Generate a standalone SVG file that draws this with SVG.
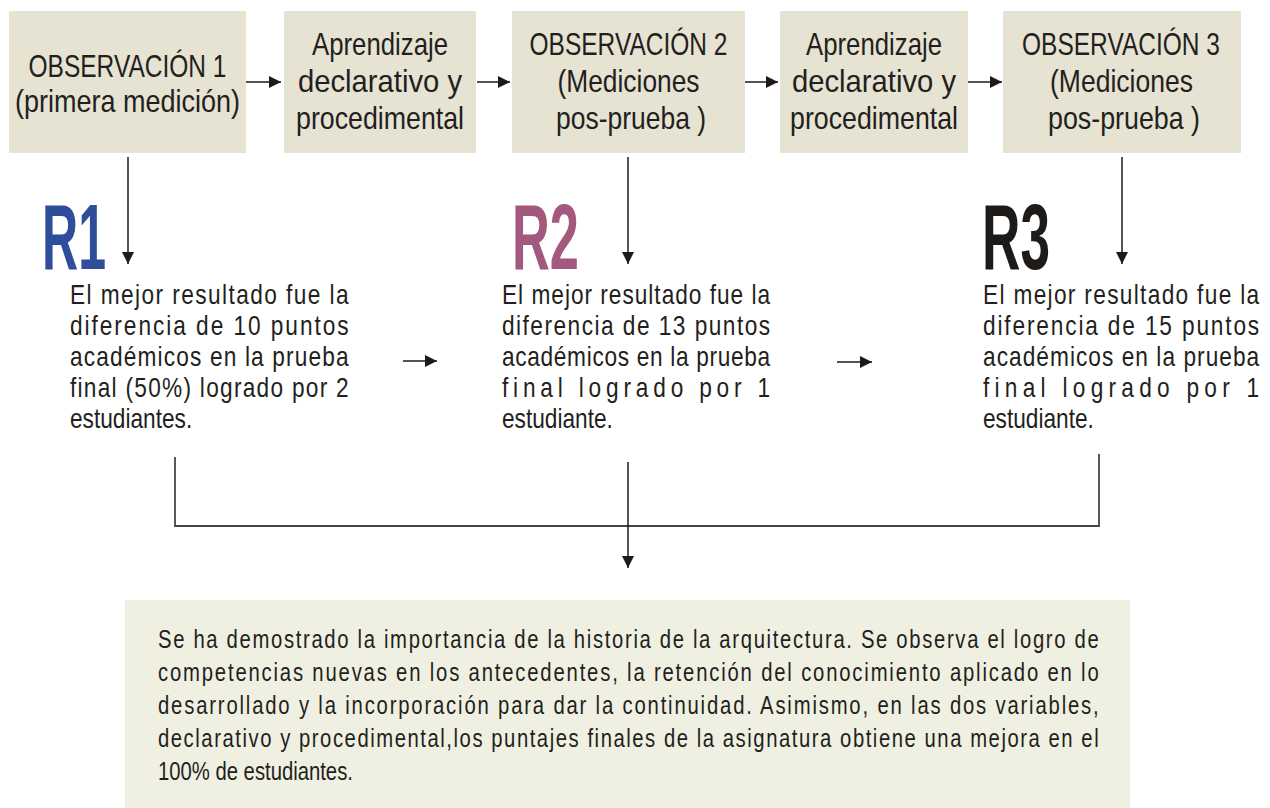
<svg xmlns="http://www.w3.org/2000/svg" width="1270" height="808" viewBox="0 0 1270 808">
<defs>
<style>
.box{fill:#E6E3D3;}
.bt{font-family:"Liberation Sans",Arial,sans-serif;font-size:32px;fill:#231F20;text-anchor:middle;}
.pt{font-family:"Liberation Sans",Arial,sans-serif;font-size:28px;fill:#231F20;}
.ct{font-family:"Liberation Sans",Arial,sans-serif;font-size:26px;fill:#231F20;}
.rt{font-family:"Liberation Sans",Arial,sans-serif;font-size:92px;font-weight:bold;}
.ln{fill:none;stroke:#1E1A17;stroke-width:1.5;}
.gl{fill:none;stroke:#4A4540;stroke-width:1.8;}
</style>
<marker id="ah" viewBox="0 0 12 12" refX="12" refY="6" markerWidth="13" markerHeight="12" markerUnits="userSpaceOnUse" orient="auto">
<path d="M0,0 L12,6 L0,12 z" fill="#1E1A17"/>
</marker>
</defs>
<rect width="1270" height="808" fill="#FFFFFF"/>

<g id="obs1">
<rect class="box" x="9" y="11" width="237" height="142"/>
<text class="bt" x="127.5" y="77" textLength="198" lengthAdjust="spacingAndGlyphs">OBSERVACIÓN 1</text>
<text class="bt" x="127.5" y="112" textLength="225" lengthAdjust="spacingAndGlyphs">(primera medición)</text>
</g>
<g id="aprend1">
<rect class="box" x="284" y="11" width="192" height="142"/>
<text class="bt" x="380" y="55" textLength="136" lengthAdjust="spacingAndGlyphs">Aprendizaje</text>
<text class="bt" x="380" y="92" textLength="164" lengthAdjust="spacingAndGlyphs">declarativo y</text>
<text class="bt" x="380" y="129" textLength="168" lengthAdjust="spacingAndGlyphs">procedimental</text>
</g>
<g id="obs2">
<rect class="box" x="512" y="11" width="233" height="142"/>
<text class="bt" x="628.5" y="55" textLength="198" lengthAdjust="spacingAndGlyphs">OBSERVACIÓN 2</text>
<text class="bt" x="628.5" y="92" textLength="142" lengthAdjust="spacingAndGlyphs">(Mediciones</text>
<text class="bt" x="631" y="129" textLength="150" lengthAdjust="spacingAndGlyphs">pos-prueba )</text>
</g>
<g id="aprend2">
<rect class="box" x="780" y="11" width="188" height="142"/>
<text class="bt" x="874" y="55" textLength="136" lengthAdjust="spacingAndGlyphs">Aprendizaje</text>
<text class="bt" x="874" y="92" textLength="164" lengthAdjust="spacingAndGlyphs">declarativo y</text>
<text class="bt" x="874" y="129" textLength="168" lengthAdjust="spacingAndGlyphs">procedimental</text>
</g>
<g id="obs3">
<rect class="box" x="1003" y="11" width="238" height="142"/>
<text class="bt" x="1121" y="55" textLength="198" lengthAdjust="spacingAndGlyphs">OBSERVACIÓN 3</text>
<text class="bt" x="1121.5" y="92" textLength="143" lengthAdjust="spacingAndGlyphs">(Mediciones</text>
<text class="bt" x="1124" y="129" textLength="152" lengthAdjust="spacingAndGlyphs">pos-prueba )</text>
</g>

<g id="r1">
<text class="rt" x="42" y="269" fill="#2E4D9A" textLength="64" lengthAdjust="spacingAndGlyphs">R1</text>
<g transform="translate(70,0) scale(0.81,1)">
<text class="pt" x="0" y="304" textLength="344" lengthAdjust="spacing">El mejor resultado fue la</text>
<text class="pt" x="0" y="335" textLength="344" lengthAdjust="spacing">diferencia de 10 puntos</text>
<text class="pt" x="0" y="366" textLength="344" lengthAdjust="spacing">académicos en la prueba</text>
<text class="pt" x="0" y="397" textLength="344" lengthAdjust="spacing">final (50%) logrado por 2</text>
<text class="pt" x="0" y="428">estudiantes.</text>
</g>
</g>
<g id="r2">
<text class="rt" x="512" y="269" fill="#A3587D" textLength="67" lengthAdjust="spacingAndGlyphs">R2</text>
<g transform="translate(502,0) scale(0.81,1)">
<text class="pt" x="0" y="304" textLength="331" lengthAdjust="spacing">El mejor resultado fue la</text>
<text class="pt" x="0" y="335" textLength="331" lengthAdjust="spacing">diferencia de 13 puntos</text>
<text class="pt" x="0" y="366" textLength="331" lengthAdjust="spacing">académicos en la prueba</text>
<text class="pt" x="0" y="397" textLength="331" lengthAdjust="spacing">final logrado por 1</text>
<text class="pt" x="0" y="428">estudiante.</text>
</g>
</g>
<g id="r3">
<text class="rt" x="982" y="269" fill="#1E1A17" textLength="68" lengthAdjust="spacingAndGlyphs">R3</text>
<g transform="translate(983,0) scale(0.81,1)">
<text class="pt" x="0" y="304" textLength="341" lengthAdjust="spacing">El mejor resultado fue la</text>
<text class="pt" x="0" y="335" textLength="341" lengthAdjust="spacing">diferencia de 15 puntos</text>
<text class="pt" x="0" y="366" textLength="341" lengthAdjust="spacing">académicos en la prueba</text>
<text class="pt" x="0" y="397" textLength="341" lengthAdjust="spacing">final logrado por 1</text>
<text class="pt" x="0" y="428">estudiante.</text>
</g>
</g>

<g id="conclusion">
<rect x="125" y="600" width="1005" height="208" fill="#F0F0E2"/>
<g transform="translate(158,0) scale(0.78,1)">
<text class="ct" x="0" y="648" textLength="1206" lengthAdjust="spacing">Se ha demostrado la importancia de la historia de la arquitectura. Se observa el logro de</text>
<text class="ct" x="0" y="681" textLength="1206" lengthAdjust="spacing">competencias nuevas en los antecedentes, la retención del conocimiento aplicado en lo</text>
<text class="ct" x="0" y="714" textLength="1206" lengthAdjust="spacing">desarrollado y la incorporación para dar la continuidad. Asimismo, en las dos variables,</text>
<text class="ct" x="0" y="747" textLength="1206" lengthAdjust="spacing">declarativo y procedimental,los puntajes finales de la asignatura obtiene una mejora en el</text>
<text class="ct" x="0" y="780">100% de estudiantes.</text>
</g>
</g>

<g id="connectors">
<line class="ln" x1="246" y1="82" x2="281" y2="82" marker-end="url(#ah)"/>
<line class="ln" x1="477" y1="82" x2="510" y2="82" marker-end="url(#ah)"/>
<line class="ln" x1="745" y1="82" x2="778" y2="82" marker-end="url(#ah)"/>
<line class="ln" x1="968" y1="82" x2="1002" y2="82" marker-end="url(#ah)"/>
<line class="ln" x1="128" y1="157" x2="128" y2="264" marker-end="url(#ah)"/>
<line class="ln" x1="628" y1="157" x2="628" y2="264" marker-end="url(#ah)"/>
<line class="ln" x1="1122" y1="157" x2="1122" y2="264" marker-end="url(#ah)"/>
<line class="ln" x1="403" y1="361" x2="437" y2="361" marker-end="url(#ah)"/>
<line class="ln" x1="837" y1="362" x2="872" y2="362" marker-end="url(#ah)"/>
<polyline class="gl" points="175,457 175,526 1099,526 1099,454"/>
<line class="ln" x1="628" y1="462" x2="628" y2="568" marker-end="url(#ah)"/>
</g>
</svg>
